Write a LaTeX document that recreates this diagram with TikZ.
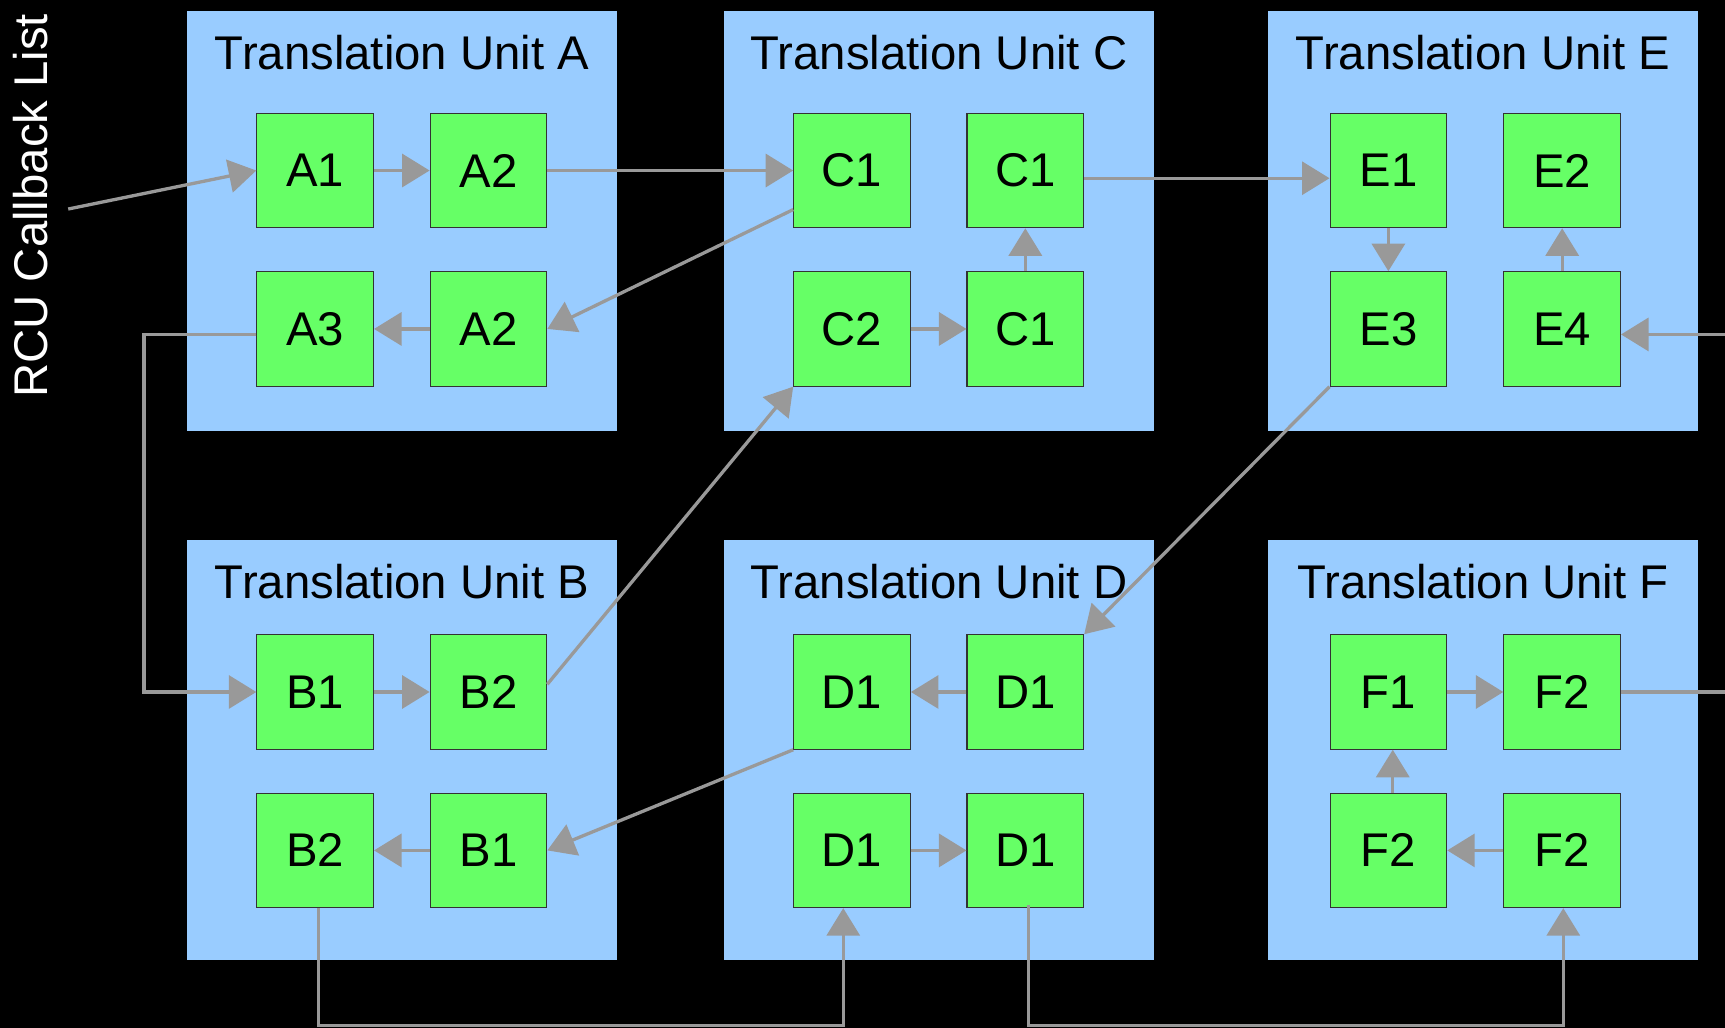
\documentclass[tikz,border=0pt]{standalone}
\usepackage{fontspec}
\setmainfont{Liberation Sans}
\usetikzlibrary{arrows.meta,calc}
\definecolor{unitblue}{HTML}{99CCFF}
\definecolor{cbgreen}{HTML}{66FF66}
\definecolor{linkgray}{HTML}{999999}
\tikzset{
  unitbox/.style={rectangle, fill=unitblue, draw=none, minimum width=391pt, minimum height=382pt, inner sep=0pt},
  cb/.style={rectangle, fill=cbgreen, draw=black!80, line width=1pt, minimum width=106pt, minimum height=104pt, inner sep=0pt, font=\fontsize{43}{50}\selectfont},
  unittitle/.style={anchor=base, inner sep=0pt, font=\fontsize{43}{50}\selectfont},
  link/.style={draw=linkgray, line width=3pt},
  arr/.style={link, -{Triangle[length=25pt,width=30pt]}},
}
\begin{document}
\begin{tikzpicture}[x=1pt,y=-1pt]
\fill[black] (0,0) rectangle (1568,934);
\useasboundingbox (0,0) rectangle (1568,934);

% translation units
\node[unitbox] (uA) at (365.5,201) {};
\node[unitbox] (uC) at (853.5,201) {};
\node[unitbox] (uE) at (1348,201) {};
\node[unitbox] (uB) at (365.5,682) {};
\node[unitbox] (uD) at (853.5,682) {};
\node[unitbox] (uF) at (1348,682) {};
\node[unittitle] (tA) at (365.5,63) {Translation Unit A};
\node[unittitle] (tC) at (853.5,63) {Translation Unit C};
\node[unittitle] (tE) at (1348,63) {Translation Unit E};
\node[unittitle] (tB) at (365.5,544) {Translation Unit B};
\node[unittitle] (tD) at (853.5,544) {Translation Unit D};
\node[unittitle] (tF) at (1348,544) {Translation Unit F};

% callbacks
\node[cb] (A1)  at (286.5,155) {A1};
\node[cb] (A2)  at (444,155)   {A2};
\node[cb] (A3)  at (286.5,299) {A3};
\node[cb] (A2b) at (444,299)   {A2};
\node[cb] (C1a) at (774.5,155) {C1};
\node[cb] (C1c) at (932,155)   {C1};
\node[cb] (C2)  at (774.5,299) {C2};
\node[cb] (C1b) at (932,299)   {C1};
\node[cb] (E1)  at (1262,155)  {E1};
\node[cb] (E2)  at (1420,155)  {E2};
\node[cb] (E3)  at (1262,299)  {E3};
\node[cb] (E4)  at (1420,299)  {E4};
\node[cb] (B1a) at (286.5,629) {B1};
\node[cb] (B2a) at (444,629)   {B2};
\node[cb] (B2b) at (286.5,773) {B2};
\node[cb] (B1b) at (444,773)   {B1};
\node[cb] (D1a) at (774.5,629) {D1};
\node[cb] (D1b) at (932,629)   {D1};
\node[cb] (D1c) at (774.5,773) {D1};
\node[cb] (D1d) at (932,773)   {D1};
\node[cb] (F1)  at (1262,629)  {F1};
\node[cb] (F2a) at (1420,629)  {F2};
\node[cb] (F2c) at (1262,773)  {F2};
\node[cb] (F2b) at (1420,773)  {F2};

% list head
\node[rotate=90, text=white, inner sep=0pt, font=\fontsize{43}{50}\selectfont] (rcu) at (28,187) {RCU Callback List};
\coordinate (head) at (62,190);
\coordinate (ab) at (131,304);
\coordinate (bot) at (0,932);
\coordinate (edge) at (1568,0);
\coordinate (b2s) at ($(B2b.south)+(3,0)$);
\coordinate (d1c) at ($(D1c.south)+(-8,0)$);
\coordinate (d1s) at ($(D1d.south)+(3,-3)$);
\coordinate (f2s) at ($(F2b.south)+(1,0)$);
\coordinate (e4e) at ($(E4.east)+(0,5)$);
\coordinate (c1s) at ($(C1a.south west)+(0,-17)$);
\coordinate (b2e) at ($(B2a.east)+(0,-7)$);
\coordinate (c1e) at ($(C1c.east)+(0,7)$);
\coordinate (e1w) at ($(E1.west)+(0,7)$);
\coordinate (f2n) at ($(F2c.north)+(4,0)$);
\coordinate (f1s) at ($(F1.south)+(4,0)$);

% links
\draw[arr] (head) -- (A1.west);
\draw[arr] (A1.east) -- (A2.west);
\draw[arr] (A2.east) -- (C1a.west);
\draw[arr] (c1s) -- (A2b.east);
\draw[arr] (A2b.west) -- (A3.east);
\draw[arr] (A3.west |- ab) -- (ab) |- (B1a.west);
\draw[arr] (B1a.east) -- (B2a.west);
\draw[arr] (b2e) -- (C2.south west);
\draw[arr] (C2.east) -- (C1b.west);
\draw[arr] (C1b.north) -- (C1c.south);
\draw[arr] (c1e) -- (e1w);
\draw[arr] (E1.south) -- (E3.north);
\draw[arr] (E3.south west) -- (D1b.north east);
\draw[arr] (D1b.west) -- (D1a.east);
\draw[arr] (D1a.south west) -- (B1b.east);
\draw[arr] (B1b.west) -- (B2b.east);
\draw[arr] (b2s) -- (b2s |- bot) -| (d1c);
\draw[arr] (D1c.east) -- (D1d.west);
\draw[arr] (d1s) -- (d1s |- bot) -| (f2s);
\draw[arr] (F2b.west) -- (F2c.east);
\draw[arr] (f2n) -- (f1s);
\draw[arr] (F1.east) -- (F2a.west);
\draw[link] (F2a.east) -- (F2a.east -| edge);
\draw[arr] (e4e -| edge) -- (e4e);
\draw[arr] (E4.north) -- (E2.south);
\end{tikzpicture}
\end{document}
